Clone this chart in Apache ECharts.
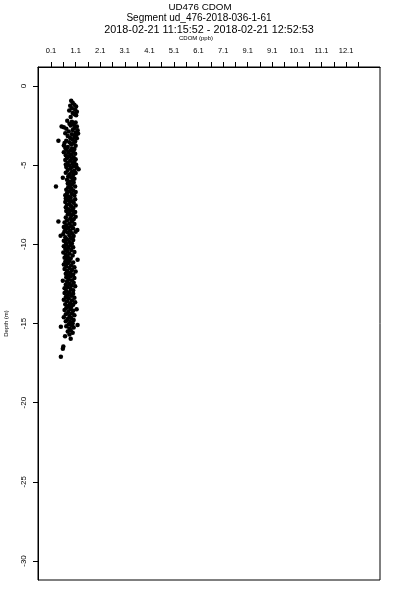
<!DOCTYPE html>
<html>
<head>
<meta charset="utf-8">
<script src="https://cdn.jsdelivr.net/npm/echarts@6/dist/echarts.min.js"></script>
<style>html,body{margin:0;padding:0;background:#fff}#c{width:400px;height:600px}</style>
</head>
<body>
<div id="c"></div>
<script>
var titleLines = ["UD476 CDOM", "Segment ud_476-2018-036-1-61", "2018-02-21 11:15:52 - 2018-02-21 12:52:53"];
var xName = "CDOM (ppb)";
var yName = "Depth (m)";
var xTickValues = [0.1,0.6,1.1,1.6,2.1,2.6,3.1,3.6,4.1,4.6,5.1,5.6,6.1,6.6,7.1,7.6,8.1,8.6,9.1,9.6,10.1,10.6,11.1,11.6,12.1,12.6];
var xLabelValues = [0.1,1.1,2.1,3.1,4.1,5.1,6.1,7.1,8.1,9.1,10.1,11.1,12.1];
var xLabelTexts = ["0.1","1.1","2.1","3.1","4.1","5.1","6.1","7.1","9.1","9.1","10.1","11.1","12.1"];
var yTickValues = [0,-5,-10,-15,-20,-25,-30];
var yLabelTexts = ["0","-5","-10","-15","-20","-25","-30"];

var points = [
[0.92,-0.93],[0.98,-1.05],[1.05,-1.18],[0.88,-1.25],[1.12,-1.3],[0.95,-1.4],[0.84,-1.55],[1.08,-1.5],[1.15,-1.62],[0.98,-1.7],[1.05,-1.78],[1.12,-1.85],[0.9,-1.95],
[0.76,-2.2],[0.95,-2.25],[1.1,-2.3],[0.85,-2.38],[1.02,-2.42],[0.53,-2.55],[0.62,-2.6],[0.9,-2.5],[1.15,-2.55],[0.72,-2.7],[1.05,-2.65],[0.98,-2.78],[1.18,-2.8],[0.82,-2.88],[1.1,-2.95],[0.68,-2.98],[1.2,-3.0],
[0.95,-3.05],[1.12,-3.1],[0.78,-3.15],[1.05,-3.22],[0.88,-3.28],[1.15,-3.3],[0.4,-3.45],[0.98,-3.38],[0.72,-3.45],[1.08,-3.5],[0.85,-3.55],[0.65,-3.6],[1.0,-3.62],[0.92,-3.7],[0.62,-3.75],[1.1,-3.78],[0.78,-3.85],[0.68,-3.92],[0.95,-3.95],[1.05,-3.98],
[0.72,-4.02],[0.88,-4.08],[1.0,-4.12],[0.62,-4.18],[0.8,-4.22],[1.08,-4.28],[0.92,-4.32],[0.7,-4.38],[0.85,-4.45],[1.02,-4.5],[0.75,-4.55],[0.95,-4.6],[1.1,-4.62],[0.68,-4.68],[0.88,-4.72],[1.05,-4.78],[0.78,-4.85],[0.98,-4.88],[0.7,-4.95],[1.12,-4.98],
[0.85,-5.02],[1.0,-5.08],[0.72,-5.12],[1.15,-5.15],[0.9,-5.2],[1.22,-5.25],[0.78,-5.3],[1.05,-5.35],[0.95,-5.42],[0.7,-5.48],[1.1,-5.5],[0.85,-5.58],[1.0,-5.62],[0.58,-5.8],[0.8,-5.72],[0.92,-5.78],[1.05,-5.85],[0.75,-5.92],[0.98,-5.98],
[0.85,-6.05],[1.02,-6.1],[0.78,-6.15],[0.95,-6.22],[0.88,-6.28],[0.3,-6.35],[1.08,-6.35],[0.8,-6.4],[0.92,-6.48],[0.72,-6.55],[1.0,-6.6],[0.85,-6.65],[1.1,-6.7],[0.75,-6.78],[0.95,-6.82],[0.68,-6.9],[1.05,-6.92],[0.82,-6.98],
[0.9,-7.05],[0.7,-7.1],[1.08,-7.15],[0.8,-7.22],[0.95,-7.28],[0.68,-7.32],[1.02,-7.38],[0.85,-7.45],[0.75,-7.5],[1.1,-7.55],[0.92,-7.6],[0.7,-7.65],[1.0,-7.72],[0.82,-7.78],[0.95,-7.85],[0.72,-7.9],[1.08,-7.95],
[0.85,-8.02],[1.0,-8.08],[0.78,-8.12],[0.92,-8.2],[1.1,-8.25],[0.7,-8.3],[0.88,-8.38],[1.02,-8.42],[0.4,-8.56],[0.75,-8.5],[0.95,-8.55],[0.65,-8.62],[0.85,-8.68],[1.05,-8.72],[0.72,-8.8],[0.92,-8.85],[0.62,-8.9],[0.8,-8.95],[1.0,-8.98],
[0.7,-9.05],[1.17,-9.1],[0.88,-9.12],[0.65,-9.18],[1.1,-9.2],[0.78,-9.25],[0.95,-9.3],[0.6,-9.35],[0.49,-9.45],[0.85,-9.42],[1.02,-9.48],[0.68,-9.55],[0.9,-9.6],[0.75,-9.68],[1.0,-9.72],[0.62,-9.78],[0.85,-9.85],[0.7,-9.9],[0.95,-9.95],
[0.72,-10.02],[0.88,-10.08],[0.62,-10.12],[1.0,-10.18],[0.8,-10.22],[0.68,-10.3],[0.92,-10.35],[0.75,-10.42],[1.05,-10.48],[0.6,-10.52],[0.85,-10.58],[0.7,-10.65],[0.98,-10.7],[0.78,-10.78],[0.65,-10.85],[0.9,-10.9],[1.18,-10.98],[0.75,-10.98],
[0.85,-11.05],[0.68,-11.1],[1.0,-11.15],[0.78,-11.2],[0.62,-11.28],[0.92,-11.32],[0.72,-11.4],[1.05,-11.45],[0.85,-11.5],[0.65,-11.55],[0.95,-11.62],[0.75,-11.68],[1.1,-11.72],[0.88,-11.78],[0.7,-11.85],[1.0,-11.9],[0.8,-11.95],
[0.9,-12.02],[0.72,-12.08],[1.05,-12.12],[0.82,-12.2],[0.58,-12.3],[0.95,-12.28],[0.75,-12.35],[1.02,-12.42],[0.85,-12.48],[0.7,-12.55],[0.92,-12.6],[1.08,-12.65],[0.78,-12.7],[0.65,-12.78],[0.9,-12.82],[1.0,-12.9],[0.72,-12.95],
[0.85,-13.02],[0.65,-13.08],[1.0,-13.12],[0.78,-13.2],[0.92,-13.25],[0.7,-13.32],[1.05,-13.38],[0.82,-13.42],[0.62,-13.5],[0.95,-13.55],[0.75,-13.6],[1.08,-13.65],[0.88,-13.72],[0.68,-13.78],[1.0,-13.82],[0.8,-13.9],[0.92,-13.95],
[0.72,-14.02],[1.14,-14.1],[0.88,-14.08],[0.65,-14.15],[1.0,-14.2],[0.8,-14.28],[0.95,-14.35],[0.7,-14.42],[1.05,-14.48],[0.85,-14.52],[0.62,-14.6],[0.92,-14.65],[0.78,-14.72],[1.02,-14.78],[0.7,-14.85],[0.88,-14.9],[0.98,-14.98],
[0.5,-15.2],[1.18,-15.1],[0.82,-15.05],[0.95,-15.12],[0.72,-15.18],[1.02,-15.25],[0.85,-15.32],[0.9,-15.42],[0.78,-15.5],[0.98,-15.58],[0.67,-15.8],[0.9,-15.97],[0.85,-15.7],[0.6,-16.45],[0.58,-16.6],[0.5,-17.1]
];

var font = "'Liberation Sans', Arial, Helvetica, sans-serif";
var chart = echarts.init(document.getElementById('c'), null, {renderer: 'canvas'});
var titleY = [7, 18, 30];
var titleX = [200, 199, 209];
var titleSize = [9.8, 10, 10.8];
var titleGraphics = titleLines.map(function (t, i) {
  return {type: 'text', x: titleX[i], y: titleY[i], style: {text: t, fontSize: titleSize[i], fontFamily: font, fill: '#000', align: 'center', verticalAlign: 'middle'}};
});
chart.setOption({
  animation: false,
  backgroundColor: '#fff',
  graphic: titleGraphics,
  grid: {left: 38, right: 20, top: 67, bottom: 20, show: true, borderColor: '#000', borderWidth: 1, containLabel: false, outerBoundsMode: 'none'},
  xAxis: {
    type: 'value', position: 'top', min: -0.43, max: 13.48,
    name: xName, nameLocation: 'middle', nameGap: 26,
    nameTextStyle: {fontSize: 6, color: '#000', fontFamily: font, padding: [0, 26, 0, 0]},
    axisLine: {show: true, onZero: false, lineStyle: {color: '#000', width: 1}},
    axisTick: {show: true, length: 5, customValues: xTickValues, lineStyle: {color: '#000'}},
    axisLabel: {show: true, customValues: xLabelValues, fontSize: 7.5, color: '#000', fontFamily: font, margin: 12,
      formatter: function (v) { var i = xLabelValues.findIndex(function (a) { return Math.abs(a - v) < 1e-6; }); return i >= 0 ? xLabelTexts[i] : ''; }},
    splitLine: {show: false}
  },
  yAxis: {
    type: 'value', min: -31.2, max: 1.2,
    name: yName, nameLocation: 'middle', nameGap: 29, nameRotate: 90,
    nameTextStyle: {fontSize: 6, color: '#000', fontFamily: font},
    axisLine: {show: true, onZero: false, lineStyle: {color: '#000', width: 1}},
    axisTick: {show: true, length: 5, customValues: yTickValues, lineStyle: {color: '#000'}},
    axisLabel: {show: true, customValues: yTickValues, rotate: 90, fontSize: 8, color: '#000', fontFamily: font, margin: 10,
      formatter: function (v) { var i = yTickValues.findIndex(function (a) { return Math.abs(a - v) < 1e-6; }); return i >= 0 ? yLabelTexts[i] : ''; }},
    splitLine: {show: false}
  },
  series: [{
    type: 'scatter',
    data: points,
    symbol: 'circle',
    symbolSize: 4.5,
    itemStyle: {color: '#000', opacity: 1}
  }]
});
</script>
</body>
</html>
